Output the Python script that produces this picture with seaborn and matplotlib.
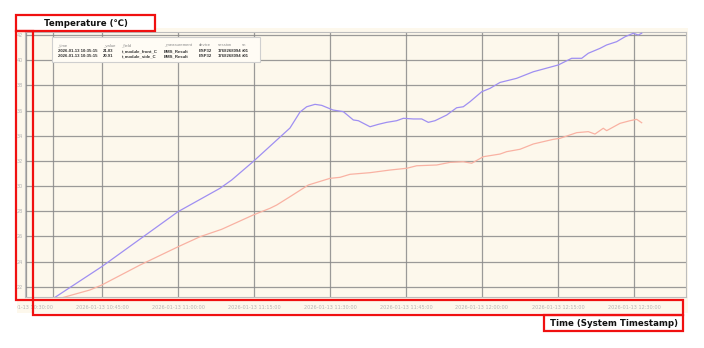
import matplotlib
matplotlib.use("Agg")
import matplotlib.pyplot as plt
import matplotlib.dates as mdates
from matplotlib.patches import Rectangle
import seaborn as sns
import pandas as pd

# ---------------- data (minutes after 2026-01-13 10:30:00, temperature in C) ----------------
front_minutes = [5.25, 14.94, 30.0, 38.29, 40.6, 44.8, 52.1, 54.08, 55.4, 57.04, 58.36, 60.59,
                 62.63, 64.6, 65.6, 67.9, 69.53, 71.19, 73.16, 74.47, 76.44, 78.1, 79.4, 80.72,
                 83.03, 85.0, 86.31, 87.63, 89.94, 91.58, 93.55, 96.85, 100.13, 105.06, 107.7,
                 109.68, 110.98, 113.29, 114.6, 116.58, 118.22, 119.86, 120.85, 121.52]
front_temp = [21.03, 23.59, 27.96, 29.82, 30.48, 31.93, 34.61, 35.88, 36.30, 36.49, 36.41, 36.04,
              35.91, 35.25, 35.19, 34.71, 34.90, 35.06, 35.19, 35.38, 35.33, 35.33, 35.06, 35.19,
              35.64, 36.22, 36.30, 36.70, 37.49, 37.76, 38.23, 38.56, 39.08, 39.62, 40.15,
              40.15, 40.55, 40.94, 41.21, 41.47, 41.86, 42.14, 42.00, 42.14]

side_minutes = [5.25, 12.63, 14.94, 22.5, 30.06, 34.34, 38.62, 44.86, 48.16, 49.48, 52.1, 55.72,
                60.0, 61.97, 63.95, 67.9, 71.84, 75.14, 77.11, 81.06, 83.68, 86.31, 87.97, 90.26,
                93.55, 94.87, 97.5, 100.13, 104.07, 105.39, 108.69, 110.98, 112.3, 113.94, 114.61,
                117.24, 119.21, 120.53, 121.52]
side_temp = [20.91, 21.74, 22.13, 23.72, 25.18, 25.97, 26.56, 27.70, 28.23, 28.49, 29.15, 30.08,
             30.61, 30.69, 30.93, 31.06, 31.27, 31.41, 31.61, 31.67, 31.88, 31.93, 31.81, 32.33,
             32.54, 32.73, 32.92, 33.34, 33.71, 33.79, 34.24, 34.32, 34.13, 34.59, 34.40,
             34.98, 35.19, 35.30, 35.03]

fields = ["t_module_front_C", "t_module_side_C"]
y_ticks = [22, 24, 26, 28, 30, 32, 34, 36, 38, 40, 42]

tooltip_header = ["_time", "_value", "_field", "_measurement", "device", "session", "sn"]
tooltip_rows = [
    ["2026-01-13 10:35:15", "21.03", "t_module_front_C", "BMS_Result", "ESP32", "1768268094", "#01"],
    ["2026-01-13 10:35:15", "20.91", "t_module_side_C", "BMS_Result", "ESP32", "1768268094", "#01"],
]

y_label = "Temperature (\u2103)"
x_label = "Time (System Timestamp)"

# ---------------- build table ----------------
base = pd.Timestamp("2026-01-13 10:30:00")
df = pd.concat([
    pd.DataFrame({"_time": base + pd.to_timedelta(front_minutes, unit="min"),
                  "_value": front_temp, "_field": fields[0]}),
    pd.DataFrame({"_time": base + pd.to_timedelta(side_minutes, unit="min"),
                  "_value": side_temp, "_field": fields[1]}),
])

W, H = 704, 348
fig = plt.figure(figsize=(W / 100, H / 100), dpi=100)
fig.patch.set_facecolor("white")


def fx(x):
    return x / W


def fy(y):
    return 1 - y / H


# cream panel behind chart
fig.patches.append(Rectangle((fx(17), fy(313)), fx(688) - fx(17), fy(28) - fy(313),
                             transform=fig.transFigure, facecolor="#fdf8ec",
                             edgecolor="none", zorder=-10))

ax = fig.add_axes([fx(25), fy(297), fx(686) - fx(25), fy(32) - fy(297)])
ax.set_facecolor("#fdf8ec")

palette = {fields[0]: "#9f8ff2", fields[1]: "#f9b2a3"}
sns.lineplot(data=df, x="_time", y="_value", hue="_field", palette=palette,
             linewidth=0.9, ax=ax, legend=False, zorder=3)

# axes ranges
ax.set_xlim(base - pd.Timedelta(seconds=12), base + pd.Timedelta(minutes=130, seconds=16))
ax.set_ylim(21.18, 42.24)
ax.set_yticks(y_ticks)
ax.xaxis.set_major_locator(mdates.MinuteLocator(byminute=[0, 15, 30, 45]))
ax.xaxis.set_major_formatter(mdates.DateFormatter("%Y-%m-%d %H:%M:%S"))

ax.grid(True, color="#8a8a8a", linewidth=0.9, alpha=0.85, zorder=1)
ax.set_axisbelow(True)
ax.tick_params(axis="both", length=0, labelsize=3.6, labelcolor="#b5b5b5")
ax.tick_params(axis="x", pad=5.5)
ax.tick_params(axis="y", pad=1.2)
for s in ax.spines.values():
    s.set_color("#bdbdbd")
    s.set_linewidth(0.8)
ax.set_xlabel("")
ax.set_ylabel("")

# hover cursor line at first sample
ax.axvline(df["_time"].iloc[0], color="#8a8a8a", linewidth=0.9, alpha=0.85, zorder=2)

# white strip cutting tick label on the left
fig.patches.append(Rectangle((0, 0), fx(16.5), 1, transform=fig.transFigure,
                             facecolor="white", edgecolor="none", zorder=5))

# tooltip box
fig.patches.append(Rectangle((fx(52), fy(62)), fx(260) - fx(52), fy(37) - fy(62),
                             transform=fig.transFigure, facecolor="#fffcf5",
                             edgecolor="#cfcfcf", linewidth=0.8, zorder=6))
col_x = [57.5, 103, 121.5, 164, 199, 217.5, 242]
tip_font = ["Liberation Sans", "DejaVu Sans"]
for cx, h in zip(col_x, tooltip_header):
    fig.text(fx(cx), fy(45.5), h, fontsize=3.05, color="#8a8a8a", va="center", ha="left",
             zorder=7, family=tip_font)
for ry, row in zip([51, 56], tooltip_rows):
    for cx, v in zip(col_x, row):
        fig.text(fx(cx), fy(ry), v, fontsize=3.05, color="#333333", fontweight="bold",
                 va="center", ha="left", zorder=7, family=tip_font)

# red annotation boxes
red = "#f01010"
for (x0, y0, x1, y1) in [(16, 31, 33, 300), (33, 300, 683, 315)]:
    fig.patches.append(Rectangle((fx(x0), fy(y1)), fx(x1) - fx(x0), fy(y0) - fy(y1),
                                 transform=fig.transFigure, facecolor="none",
                                 edgecolor=red, linewidth=1.6, zorder=10))
for (x0, y0, x1, y1) in [(16, 15, 155, 31), (544, 315, 683, 331)]:
    fig.patches.append(Rectangle((fx(x0), fy(y1)), fx(x1) - fx(x0), fy(y0) - fy(y1),
                                 transform=fig.transFigure, facecolor="white",
                                 edgecolor=red, linewidth=1.6, zorder=9))

fig.text(fx(85.5), fy(23.5), y_label, fontsize=6.2, fontweight="bold", color="#111111",
         ha="center", va="center", zorder=11, family=["DejaVu Sans"])
fig.text(fx(613.5), fy(323.5), x_label, fontsize=6.2, fontweight="bold", color="#111111",
         ha="center", va="center", zorder=11, family=["DejaVu Sans"])

fig.savefig("out.png", dpi=100)
